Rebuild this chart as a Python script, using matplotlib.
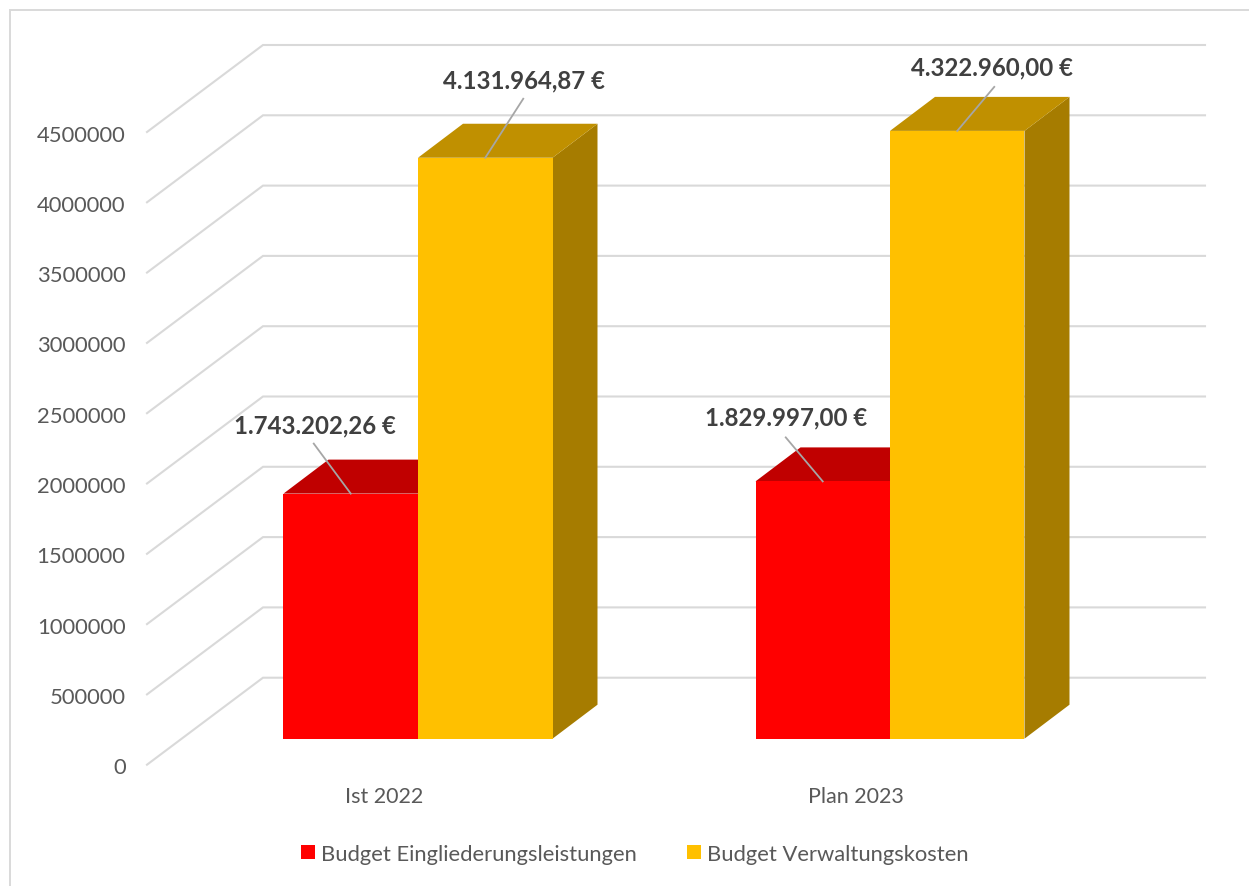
import matplotlib
matplotlib.use("Agg")
import matplotlib.pyplot as plt
from matplotlib.lines import Line2D
from matplotlib.patches import Polygon, Patch, Rectangle

categories = ["Ist 2022", "Plan 2023"]
series_names = ["Budget Eingliederungsleistungen", "Budget Verwaltungskosten"]
eingliederung = [1743202.26, 1829997.00]
verwaltung = [4131964.87, 4322960.00]
bar_labels = [["1.743.202,26 €", "1.829.997,00 €"], ["4.131.964,87 €", "4.322.960,00 €"]]
ticks = [0, 500000, 1000000, 1500000, 2000000, 2500000, 3000000, 3500000, 4000000, 4500000]

W, H = 1249, 887
plt.rcParams['font.family'] = ['Lato', 'DejaVu Sans']
TXT = "#595959"
GRID = "#d9d9d9"

fig = plt.figure(figsize=(W / 100, H / 100), dpi=100, facecolor="white")
ax = fig.add_axes([0, 0, 1, 1])
ax.axis("off")

PX_PER_CAT = 472.0          # pixels between the two category centres
PX_PER_VAL = 70.3 / 500000  # pixels per unit of value
X0, Y0 = 418.0, 739.7       # pixel of category 0 / value 0 on the bar plane
ax.set_xlim(-X0 / PX_PER_CAT, (W - X0) / PX_PER_CAT)
ax.set_ylim((Y0 - H) / PX_PER_VAL, Y0 / PX_PER_VAL)

def dx(px):
    return px / PX_PER_CAT

def dy(px):
    return px / PX_PER_VAL

# chart frame: only the left and top edges fall inside the picture
fig.add_artist(Line2D([9.5 / W, 9.5 / W, 1], [0, 1 - 10.5 / H, 1 - 10.5 / H],
                      transform=fig.transFigure, color=GRID, lw=1.4,
                      solid_joinstyle="miter"))

# walls: floor/left diagonals and back-wall gridlines
for v in ticks:
    xs = [dx(147 - X0), dx(263 - X0), dx(1205 - X0)]
    ys = [v - dy(26), v + dy(61), v + dy(61)]
    ax.plot(xs, ys, color=GRID, lw=1.5, zorder=1, solid_joinstyle="miter")
    ax.text(dx(125.5 - X0), v - dy(28.5), str(v), ha="right", va="center", fontsize=15.8, color=TXT)

# 3D bars
BAR_W = 134.5 / PX_PER_CAT
DEPTH_X, DEPTH_Y = dx(45), dy(34)
styles = [("#ff0000", "#c00000", "#a60000"), ("#ffc000", "#c09000", "#a67c00")]
label_off = [[(-36, -69), (-37, -64)], [(39, -78), (35, -64)]]
leader_off = [[(-37, -50), (-37, -44)], [(38, -59), (37, -44)]]

for s, values in enumerate([eingliederung, verwaltung]):
    front, top, side = styles[s]
    for i, v in enumerate(values):
        left = i - BAR_W + s * BAR_W
        right = left + BAR_W
        ax.add_patch(Polygon([(right, 0), (right + DEPTH_X, DEPTH_Y), (right + DEPTH_X, v + DEPTH_Y), (right, v)],
                             closed=True, fc=side, ec="none", zorder=2 + s))
        ax.add_patch(Polygon([(left, v), (left + DEPTH_X, v + DEPTH_Y), (right + DEPTH_X, v + DEPTH_Y), (right, v)],
                             closed=True, fc=top, ec="none", zorder=2 + s))
        ax.add_patch(Rectangle((left, 0), BAR_W, v, fc=front, ec="none", zorder=2 + s))

for s, values in enumerate([eingliederung, verwaltung]):
    for i, v in enumerate(values):
        cx = i - BAR_W / 2 + s * BAR_W
        lx, ly = leader_off[s][i]
        ax.plot([cx, cx + dx(lx)], [v, v - dy(ly)], color="#a6a6a6", lw=1.3, zorder=6)
        tx, ty = label_off[s][i]
        ax.text(cx + dx(tx), v - dy(ty), bar_labels[s][i], ha="center", va="center",
                fontsize=17.3, fontweight="bold", color="#404040", zorder=7)

# category labels
for i, c in enumerate(categories):
    ax.text(i - dx(34), dy(-57.3), c, ha="center", va="center", fontsize=15.5, color=TXT)

handles = [Patch(fc=styles[0][0], ec="none", label=series_names[0]),
           Patch(fc=styles[1][0], ec="none", label=series_names[1])]
ax.legend(handles=handles, ncol=2, frameon=False, loc="center",
          bbox_to_anchor=(634.5 / W, 1 - 855 / H), bbox_transform=fig.transFigure,
          fontsize=15.8, labelcolor=TXT, handlelength=0.63, handleheight=0.63,
          handletextpad=0.27, columnspacing=2.3)

fig.savefig("out.png", dpi=100, facecolor="white")
